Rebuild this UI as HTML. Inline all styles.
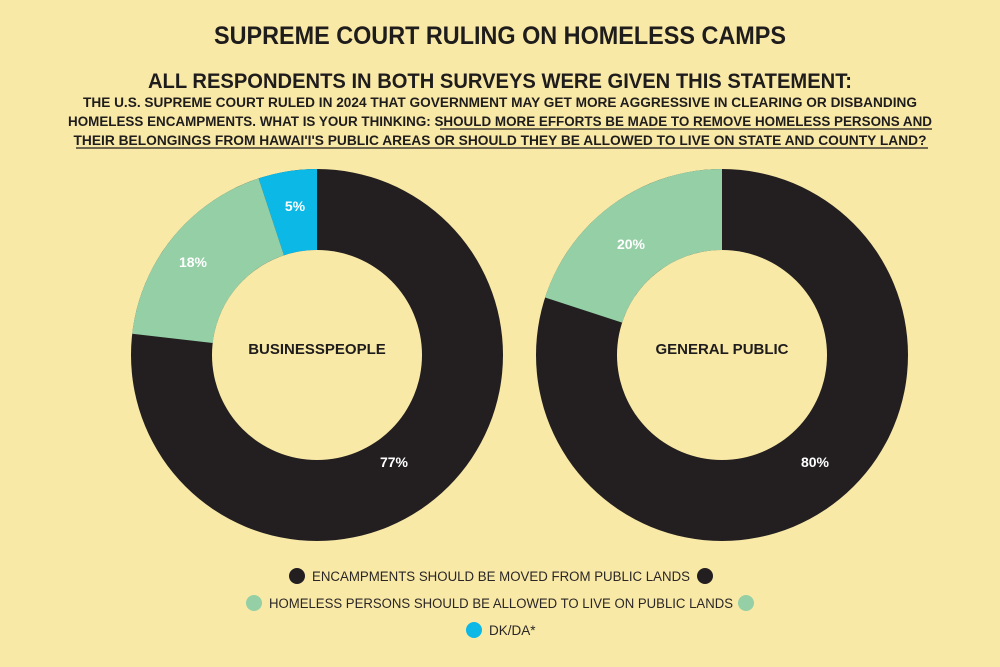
<!DOCTYPE html>
<html><head><meta charset="utf-8"><style>
html,body{margin:0;padding:0;background:#f9e9a7;}
svg{display:block}
.t{font-family:"Liberation Sans",sans-serif;font-weight:bold;fill:#1f1c1c}
.l{font-family:"Liberation Sans",sans-serif;fill:#2a2626;font-size:13.5px}
.w{font-family:"Liberation Sans",sans-serif;font-weight:bold;fill:#fff;font-size:14px}
</style></head><body>
<svg width="1000" height="667" viewBox="0 0 1000 667" xmlns="http://www.w3.org/2000/svg">
<rect width="1000" height="667" fill="#f9e9a7"/>
<text class="t" x="500" y="44" font-size="25" text-anchor="middle" textLength="572" lengthAdjust="spacingAndGlyphs">SUPREME COURT RULING ON HOMELESS CAMPS</text>
<text class="t" x="500" y="88" font-size="21" text-anchor="middle" textLength="704" lengthAdjust="spacingAndGlyphs">ALL RESPONDENTS IN BOTH SURVEYS WERE GIVEN THIS STATEMENT:</text>
<text class="t" x="500" y="107" font-size="13.5" text-anchor="middle" textLength="834" lengthAdjust="spacingAndGlyphs">THE U.S. SUPREME COURT RULED IN 2024 THAT GOVERNMENT MAY GET MORE AGGRESSIVE IN CLEARING OR DISBANDING</text>
<text class="t" x="500" y="126" font-size="13.5" text-anchor="middle" textLength="864" lengthAdjust="spacingAndGlyphs">HOMELESS ENCAMPMENTS. WHAT IS YOUR THINKING: SHOULD MORE EFFORTS BE MADE TO REMOVE HOMELESS PERSONS AND</text>
<text class="t" x="500" y="145" font-size="13.5" text-anchor="middle" textLength="853" lengthAdjust="spacingAndGlyphs">THEIR BELONGINGS FROM HAWAI'I'S PUBLIC AREAS OR SHOULD THEY BE ALLOWED TO LIVE ON STATE AND COUNTY LAND?</text>
<line x1="440" y1="129" x2="932" y2="129" stroke="#1f1c1c" stroke-width="1.2"/>
<line x1="76" y1="148" x2="928" y2="148" stroke="#1f1c1c" stroke-width="1.2"/>

<g transform="translate(317,355)">
<circle r="186" fill="#231f20"/>
<path d="M0,-186 A186,186 0 0 0 -58.4,-176.6 L-33,-99.7 A105,105 0 0 1 0,-105 Z" fill="#0bb8e6"/>
<path d="M-58.4,-176.6 A186,186 0 0 0 -184.8,-21.2 L-104.3,-12 A105,105 0 0 1 -33,-99.7 Z" fill="#94cfa6"/>
<circle r="105" fill="#f9e9a7"/>
</g>
<text class="w" x="295" y="211" text-anchor="middle">5%</text>
<text class="w" x="193" y="267" text-anchor="middle">18%</text>
<text class="w" x="394" y="467" text-anchor="middle">77%</text>
<text class="t" x="317" y="354" font-size="15" text-anchor="middle">BUSINESSPEOPLE</text>

<g transform="translate(722,355)">
<circle r="186" fill="#231f20"/>
<path d="M0,-186 A186,186 0 0 0 -176.9,-57.5 L-99.9,-32.4 A105,105 0 0 1 0,-105 Z" fill="#94cfa6"/>
<circle r="105" fill="#f9e9a7"/>
</g>
<text class="w" x="631" y="249" text-anchor="middle">20%</text>
<text class="w" x="815" y="467" text-anchor="middle">80%</text>
<text class="t" x="722" y="354" font-size="15" text-anchor="middle">GENERAL PUBLIC</text>

<circle cx="297" cy="576" r="8" fill="#231f20"/>
<text class="l" x="312" y="581" textLength="378" lengthAdjust="spacingAndGlyphs">ENCAMPMENTS SHOULD BE MOVED FROM PUBLIC LANDS</text>
<circle cx="705" cy="576" r="8" fill="#231f20"/>
<circle cx="254" cy="603" r="8" fill="#94cfa6"/>
<text class="l" x="269" y="608" textLength="464" lengthAdjust="spacingAndGlyphs">HOMELESS PERSONS SHOULD BE ALLOWED TO LIVE ON PUBLIC LANDS</text>
<circle cx="746" cy="603" r="8" fill="#94cfa6"/>
<circle cx="474" cy="630" r="8" fill="#0bb8e6"/>
<text class="l" x="489" y="635">DK/DA*</text>
</svg>
</body></html>
